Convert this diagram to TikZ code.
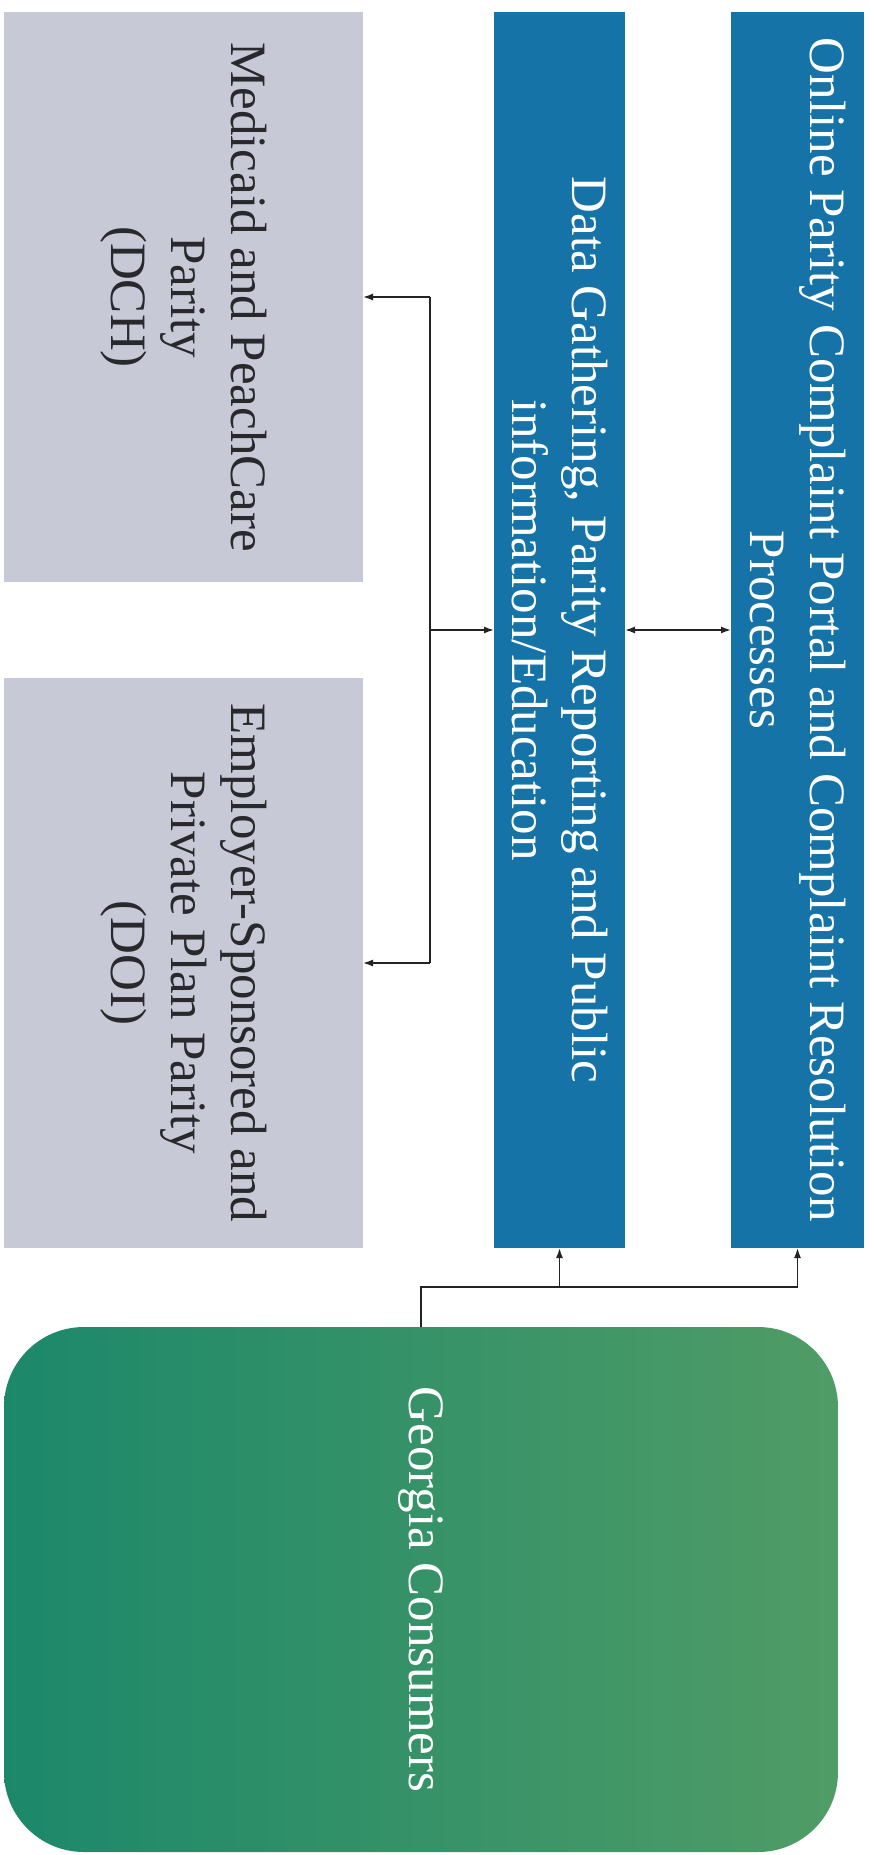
\documentclass[tikz,border=0pt]{standalone}
\usepackage{fontspec}
\setmainfont{Liberation Serif}
\usetikzlibrary{arrows.meta}
\definecolor{boxgray}{RGB}{200,201,214}
\definecolor{boxblue}{RGB}{21,115,168}
\definecolor{greenL}{RGB}{28,136,106}
\definecolor{greenR}{RGB}{80,156,102}
\definecolor{linec}{RGB}{35,35,35}
\definecolor{textgray}{RGB}{40,40,45}
\begin{document}
\begin{tikzpicture}[x=1pt,y=-1pt,
  graybox/.style={draw=none,fill=boxgray,inner sep=0pt,outer sep=0pt},
  bluebox/.style={draw=none,fill=boxblue,inner sep=0pt,outer sep=0pt},
  lbl/.style={rotate=-90,align=center,font=\fontsize{51}{60}\selectfont,inner sep=0pt},
  conn/.style={line width=1.5pt,draw=linec,-{Latex[length=10pt,width=7pt]}},
  conntwo/.style={line width=1.5pt,draw=linec,{Latex[length=10pt,width=7pt]}-{Latex[length=10pt,width=7pt]}},
  plainline/.style={line width=1.5pt,draw=linec},
]
\useasboundingbox (0,0) rectangle (874,1855);
\fill[white] (0,0) rectangle (874,1855);

% boxes
\node[graybox,minimum width=359pt,minimum height=570pt] (med) at (183.5,297) {};
\node[graybox,minimum width=359pt,minimum height=570pt] (emp) at (183.5,963) {};
\node[bluebox,minimum width=131pt,minimum height=1236pt] (data) at (559.5,630) {};
\node[bluebox,minimum width=133pt,minimum height=1236pt] (online) at (797.5,630) {};
\shade[rounded corners=80pt,left color=greenL,right color=greenR] (4,1327) rectangle (838,1852);
\node[inner sep=0pt,outer sep=0pt,minimum width=834pt,minimum height=525pt] (gc) at (421,1589.5) {};

% labels
\node[lbl,text=textgray] (medt) at (med.center) {Medicaid and PeachCare\\Parity\\(DCH)};
\node[lbl,text=textgray] (empt) at (emp.center) {Employer-Sponsored and\\Private Plan Parity\\(DOI)};
\node[lbl,text=white] (datat) at (data.center) {Data Gathering, Parity Reporting and Public\\information/Education};
\node[lbl,text=white] (onlinet) at (online.center) {Online Parity Complaint Portal and Complaint Resolution\\Processes};
\node[lbl,text=white] (gct) at (gc.center) {Georgia Consumers};

% connectors
\coordinate (busx) at (430,0);
\coordinate (jy) at (0,1287);
\draw[plainline] (med.east -| busx) -- (emp.east -| busx);
\draw[conn] (med.east -| busx) -- (med.east);
\draw[conn] (emp.east -| busx) -- (emp.east);
\draw[conn] (data.west -| busx) -- (data.west);
\draw[conntwo] (data.east) -- (online.west);
\draw[conn] (gc.north) |- (online.south |- jy) -- (online.south);
\draw[conn] (data.south |- jy) -- (data.south);
\end{tikzpicture}
\end{document}
